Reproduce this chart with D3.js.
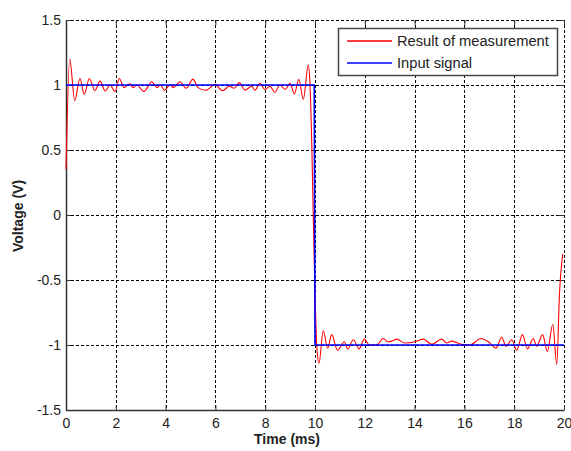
<!DOCTYPE html>
<html>
<head>
<meta charset="utf-8">
<script src="https://cdn.jsdelivr.net/npm/d3@7"></script>
<style>
  body { margin: 0; background: #fff; }
  text { font-family: "Liberation Sans", Arial, sans-serif; }
</style>
</head>
<body>
<div class="chart"></div>
<script>
var measTime = [0, 0.15, 0.35, 0.56, 0.73, 0.94, 1.16, 1.37, 1.57, 1.77, 1.97, 2.14, 2.33, 2.57, 2.69, 2.85,
  3.13, 3.45, 3.65, 3.78, 3.95, 4.18, 4.31, 4.58, 4.82, 5.1, 5.3, 5.62, 5.98, 6.29, 6.56, 6.75, 6.96,
  7.19, 7.46, 7.59, 7.79, 7.99, 8.19, 8.39, 8.59, 8.8, 9.0, 9.17, 9.35, 9.53, 9.73, 9.8, 9.87, 9.93,
  10.0, 10.07, 10.16, 10.33, 10.51, 10.67, 10.9, 11.18, 11.31, 11.54, 11.77, 11.98, 12.18, 12.48,
  12.74, 12.93, 13.08, 13.28, 13.61, 14.02, 14.35, 14.69, 15.09, 15.29, 15.49, 15.89, 16.22, 16.67,
  16.96, 17.27, 17.5, 17.67, 17.9, 18.1, 18.33, 18.53, 18.77, 18.9, 19.14, 19.33, 19.55, 19.71,
  19.82, 19.95];
var measVolt = [0.35, 1.2, 0.88, 1.05, 0.93, 1.05, 0.956, 1.03, 0.954, 1.0, 0.95, 1.05, 0.98, 1.01, 0.98, 1.0,
  0.95, 1.025, 0.98, 1.0, 0.96, 1.0, 0.98, 1.025, 0.975, 1.045, 0.98, 0.96, 1.005, 0.956, 0.99, 0.975, 1.018,
  0.96, 0.99, 0.96, 1.013, 0.965, 0.99, 0.944, 1.0, 0.965, 1.013, 0.93, 1.044, 0.89, 1.154, 1.0, 0.55, 0.0,
  -0.6, -1.0, -1.14, -0.89, -1.025, -0.92, -1.04, -0.975, -1.03, -0.96, -1.03, -0.955, -1.0, -1.0,
  -0.95, -0.975, -0.97, -0.955, -0.985, -0.975, -0.955, -0.995, -0.955, -0.985, -0.97, -0.995, -1.0, -0.95,
  -0.975, -1.025, -0.94, -1.01, -0.96, -1.04, -0.92, -1.03, -0.95, -1.01, -0.92, -1.05, -0.84, -1.15,
  -0.6, -0.3];

// input square signal
var inputTime = [0, 9.97, 10.0, 20];
var inputVolt = [1, 1, -1, -1];

var xTicks = [0, 2, 4, 6, 8, 10, 12, 14, 16, 18, 20];
var yTicks = [-1.5, -1, -0.5, 0, 0.5, 1, 1.5];
var seriesNames = ["Result of measurement", "Input signal"];

var w = 571, h = 451;
var padL = 66, padR = 564, padT = 20, padB = 410;

var x = d3.scaleLinear().domain([0, 20]).range([padL, padR]);
var y = d3.scaleLinear().domain([-1.5, 1.5]).range([padB, padT]);

var svg = d3.select(".chart").append("svg")
  .attr("width", w).attr("height", h);

// dashed grid (also stands for top and right border)
svg.append("g").selectAll("line")
  .data(xTicks.filter(function(d) { return d > 0; }))
  .enter().append("line")
  .attr("x1", function(d) { return Math.round(x(d)) + 0.5; })
  .attr("x2", function(d) { return Math.round(x(d)) + 0.5; })
  .attr("y1", padT).attr("y2", padB)
  .attr("stroke", "#000").attr("stroke-dasharray", "3,2");
svg.append("g").selectAll("line")
  .data(yTicks.filter(function(d) { return d > -1.5; }))
  .enter().append("line")
  .attr("y1", function(d) { return Math.round(y(d)) + 0.5; })
  .attr("y2", function(d) { return Math.round(y(d)) + 0.5; })
  .attr("x1", padL).attr("x2", padR)
  .attr("stroke", "#000").attr("stroke-dasharray", "3,2");

// inward ticks on top and right
svg.append("g").attr("transform", "translate(0," + padT + ")")
  .call(d3.axisTop(x).tickValues(xTicks).tickSize(-5).tickFormat(""))
  .call(function(g) { g.select(".domain").remove(); });
svg.append("g").attr("transform", "translate(" + padR + ",0)")
  .call(d3.axisRight(y).tickValues(yTicks).tickSize(-5).tickFormat(""))
  .call(function(g) { g.select(".domain").remove(); });

// bottom and left axes
var xAxis = svg.append("g").attr("transform", "translate(0," + padB + ")")
  .call(d3.axisBottom(x).tickValues(xTicks).tickSize(-5).tickSizeOuter(0).tickPadding(8)
    .tickFormat(function(d) { return String(d); }));
var yAxis = svg.append("g").attr("transform", "translate(" + padL + ",0)")
  .call(d3.axisLeft(y).tickValues(yTicks).tickSize(-5).tickSizeOuter(0).tickPadding(5)
    .tickFormat(function(d) { return String(d); }));
svg.selectAll(".tick line").attr("stroke", "#333");
[xAxis, yAxis].forEach(function(g) {
  g.select(".domain").attr("stroke", "#333").attr("stroke-width", 1.5);
  g.selectAll("text").attr("font-size", 14).attr("fill", "#222")
    .attr("font-family", "'Liberation Sans', Arial, sans-serif");
});

// lines
var measData = measTime.map(function(t, i) { return [t, measVolt[i]]; });
var inputData = inputTime.map(function(t, i) { return [t, inputVolt[i]]; });

var line = d3.line()
  .x(function(d) { return x(d[0]); })
  .y(function(d) { return y(d[1]); });

svg.append("path").datum(measData)
  .attr("d", line.curve(d3.curveMonotoneX))
  .attr("fill", "none").attr("stroke", "#ff0000").attr("stroke-width", 1.1);

svg.append("path").datum(inputData)
  .attr("d", d3.line().x(function(d) { return x(d[0]); }).y(function(d) { return y(d[1]); }))
  .attr("fill", "none").attr("stroke", "#0000ff").attr("stroke-width", 1.6);

// axis labels
svg.append("text").attr("x", 287).attr("y", 444)
  .attr("text-anchor", "middle").attr("font-size", 14).attr("font-weight", "bold")
  .attr("fill", "#222").text("Time (ms)");
svg.append("text")
  .attr("transform", "translate(23,216) rotate(-90)")
  .attr("text-anchor", "middle").attr("font-size", 14).attr("font-weight", "bold")
  .attr("fill", "#222").text("Voltage (V)");

// legend
var lg = svg.append("g");
lg.append("rect").attr("x", 338.5).attr("y", 28.5).attr("width", 219).attr("height", 47)
  .attr("fill", "#fff").attr("stroke", "#444").attr("stroke-width", 1.5);
var colors = ["#ff0000", "#0000ff"];
seriesNames.forEach(function(name, i) {
  var ly = 41 + i * 22;
  lg.append("line").attr("x1", 347).attr("x2", 392).attr("y1", ly).attr("y2", ly)
    .attr("stroke", colors[i]).attr("stroke-width", 1.3);
  lg.append("text").attr("x", 397).attr("y", ly + 5)
    .attr("font-size", 14.7).attr("fill", "#222").text(name);
});
</script>
</body>
</html>
